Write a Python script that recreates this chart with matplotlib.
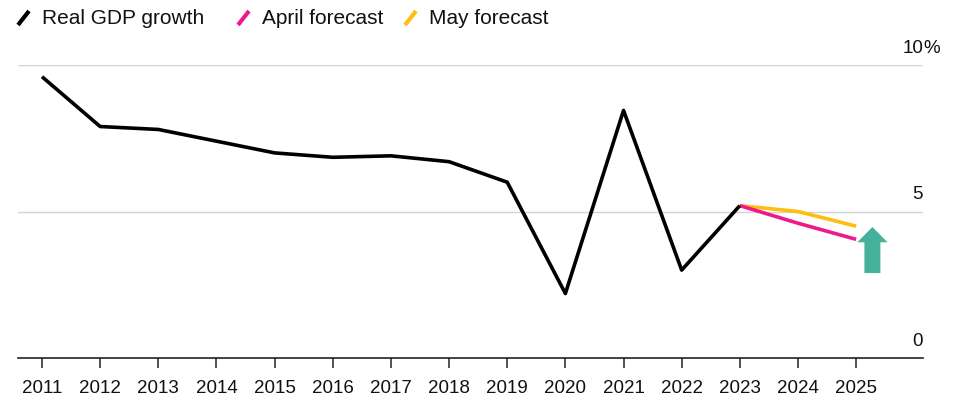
import matplotlib
matplotlib.use("Agg")
import matplotlib.pyplot as plt
from matplotlib.lines import Line2D
import matplotlib.transforms as mtransforms

plt.rcParams['font.family'] = ['Liberation Sans', 'DejaVu Sans']

# data
years = [2011, 2012, 2013, 2014, 2015, 2016, 2017, 2018, 2019, 2020, 2021, 2022, 2023]
gdp = [9.6, 7.9, 7.8, 7.4, 7.0, 6.85, 6.9, 6.7, 6.0, 2.2, 8.45, 3.0, 5.2]
fc_years = [2023, 2024, 2025]
april = [5.2, 4.6, 4.05]
may = [5.2, 5.0, 4.5]
tick_years = list(range(2011, 2026))
ytick_vals = [0, 5, 10]

BLACK = '#000000'
PINK = '#f0198c'
YELLOW = '#fdbe10'
TEAL = '#45b09b'

fig = plt.figure(figsize=(9.56, 4.02), dpi=100)
ax = fig.add_axes([18/956, 43/402, (923-18)/956, (359-66)/402])

ax.plot(years, gdp, color=BLACK, lw=2.6, solid_capstyle='butt', zorder=4)
ax.plot(fc_years, may, color=YELLOW, lw=2.6, solid_capstyle='butt', zorder=3)
ax.plot(fc_years, april, color=PINK, lw=2.6, solid_capstyle='butt', zorder=3)

# teal up arrow next to 2025
ax.arrow(2025.28, 2.9, 0, 1.57, width=0.275, head_width=0.52, head_length=0.52,
         length_includes_head=True, color=TEAL, lw=0, zorder=5)

ax.set_xlim(2010.587, 2026.15)
ax.set_ylim(0, 10)

for y in (5, 10):
    ax.axhline(y, color='#d4d4d4', lw=1.0, zorder=1)

for s in ('top', 'right', 'left'):
    ax.spines[s].set_visible(False)
ax.spines['bottom'].set_color('#222222')
ax.spines['bottom'].set_linewidth(1.2)

ax.set_xticks(tick_years)
ax.set_xticklabels([str(y) for y in tick_years], fontsize=13.5, color='#111111')
ax.tick_params(axis='x', direction='out', length=7, width=1.1, color='#222222', pad=8)
ax.set_yticks([])

# y labels sitting above the gridlines on the right
trans = mtransforms.blended_transform_factory(ax.transAxes, ax.transData)
off = mtransforms.offset_copy(trans, fig=fig, x=0, y=9, units='dots')
for v in ytick_vals:
    ax.text(1.0, v, str(v), transform=off, ha='right', va='bottom',
            fontsize=13.5, color='#111111', clip_on=False)
ax.text(1.0, 10, '%', transform=off, ha='left', va='bottom',
        fontsize=13.5, color='#111111', clip_on=False)

# legend drawn by hand with slanted swatches
legend = [('Real GDP growth', BLACK, 18), ('April forecast', PINK, 238), ('May forecast', YELLOW, 405)]
for label, col, x0 in legend:
    fig.add_artist(Line2D([x0/956, (x0+11)/956], [1-26/402, 1-12/402],
                          color=col, lw=3, solid_capstyle='butt', transform=fig.transFigure))
    fig.text((x0+24)/956, 1-19/402, label, fontsize=15, va='center', ha='left', color='#111111')

fig.savefig('out.png', dpi=100)
